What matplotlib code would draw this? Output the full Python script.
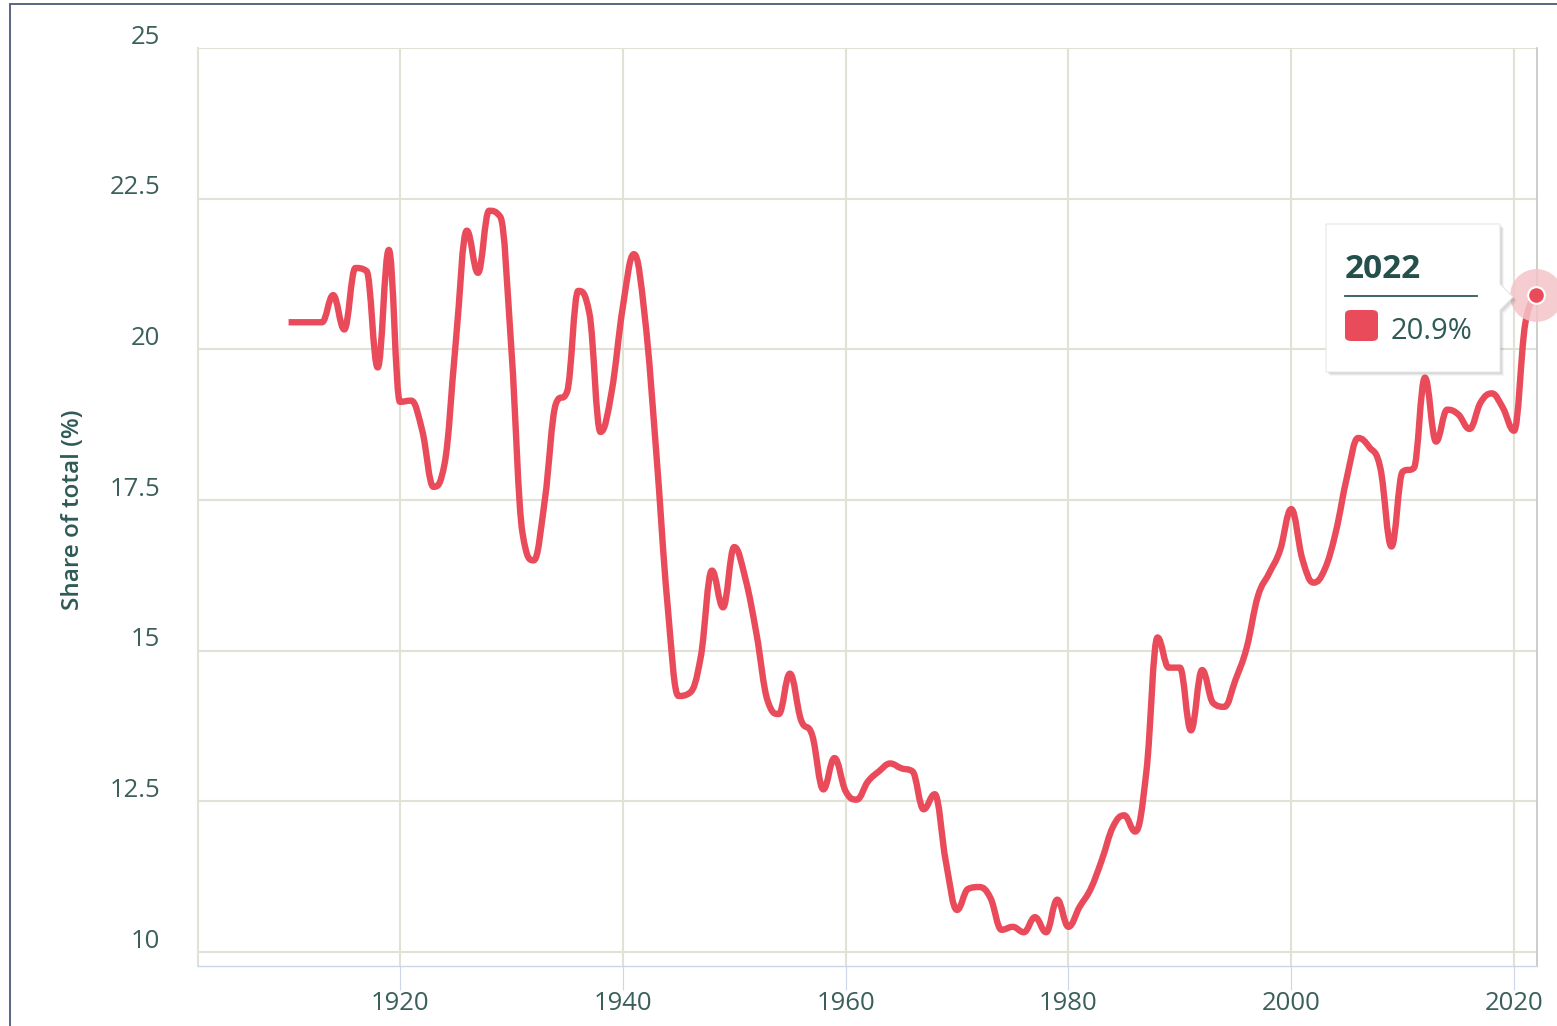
import matplotlib.pyplot as plt
from matplotlib.path import Path
from matplotlib.patches import PathPatch, Polygon, FancyBboxPatch, Rectangle
from matplotlib.transforms import ScaledTranslation

# share of total (%) per year, 1910-2022
years = list(range(1910, 2023))
share = [
    20.45, 20.45, 20.45, 20.45, 20.9, 20.33, 21.35, 21.3, 19.7, 21.65,
    19.13, 19.15, 18.65, 17.72, 18.1, 20.1, 21.97, 21.27, 22.3, 22.2,
    20.0, 16.95, 16.5, 17.5, 19.1, 19.3, 20.97, 20.6, 18.63, 19.3,
    20.7, 21.58, 20.5, 18.3, 15.8, 14.25, 14.3, 14.9, 16.33, 15.72,
    16.72, 16.2, 15.28, 14.17, 13.95, 14.62, 13.85, 13.6, 12.7, 13.22,
    12.67, 12.53, 12.83, 13.0, 13.13, 13.05, 13.0, 12.37, 12.62, 11.5,
    10.7, 11.05, 11.08, 10.9, 10.37, 10.42, 10.33, 10.58, 10.33, 10.87,
    10.42, 10.75, 11.05, 11.53, 12.08, 12.27, 12.0, 13.0, 15.22, 14.72,
    14.72, 13.68, 14.68, 14.13, 14.07, 14.52, 15.05, 15.9, 16.28, 16.67,
    17.35, 16.52, 16.13, 16.35, 16.97, 17.88, 18.53, 18.38, 18.03, 16.73,
    17.97, 18.03, 19.53, 18.47, 19.0, 18.92, 18.68, 19.12, 19.27, 19.03,
    18.65, 20.42, 20.9,
]

x_ticks = [1920, 1940, 1960, 1980, 2000, 2020]
y_ticks = [10, 12.5, 15, 17.5, 20, 22.5, 25]
y_tick_labels = ['10', '12.5', '15', '17.5', '20', '22.5', '25']
y_title = 'Share of total (%)'

LINE = '#e94b5b'
GRID = '#e1e1d5'
TXT = '#3b5f5b'
W, H = 1557, 1026


def px(x, y):
    # pixel (top-left origin) -> figure fraction
    return x / W, 1 - y / H


def spline_path(xs, ys, smoothing=1.5):
    '''smooth curve through the points, same control points as a highcharts spline'''
    n = len(xs)
    left = [(xs[i], ys[i]) for i in range(n)]
    right = [(xs[i], ys[i]) for i in range(n)]
    d = smoothing + 1
    for i in range(1, n - 1):
        px_, py_ = xs[i], ys[i]
        lx, ly = xs[i - 1], ys[i - 1]
        nx, ny = xs[i + 1], ys[i + 1]
        lcx = (smoothing * px_ + lx) / d
        lcy = (smoothing * py_ + ly) / d
        rcx = (smoothing * px_ + nx) / d
        rcy = (smoothing * py_ + ny) / d
        if rcx != lcx:
            corr = (rcy - lcy) * (rcx - px_) / (rcx - lcx) + py_ - rcy
            lcy += corr
            rcy += corr
            if lcy > ly and lcy > py_:
                lcy = max(ly, py_)
                rcy = 2 * py_ - lcy
            elif lcy < ly and lcy < py_:
                lcy = min(ly, py_)
                rcy = 2 * py_ - lcy
            if rcy > ny and rcy > py_:
                rcy = max(ny, py_)
                lcy = 2 * py_ - rcy
            elif rcy < ny and rcy < py_:
                rcy = min(ny, py_)
                lcy = 2 * py_ - rcy
        left[i] = (lcx, lcy)
        right[i] = (rcx, rcy)
    verts = [(xs[0], ys[0])]
    codes = [Path.MOVETO]
    for i in range(1, n):
        verts += [right[i - 1], left[i], (xs[i], ys[i])]
        codes += [Path.CURVE4] * 3
    return Path(verts, codes)


plt.rcParams['font.family'] = ['Open Sans', 'DejaVu Sans']

fig = plt.figure(figsize=(W / 100, H / 100), dpi=100)
l, t = px(198, 48)
r, b = px(1537, 966)
ax = fig.add_axes([l, b, r - l, t - b])

ax.set_xlim(1901.87, 2022.06)
ax.set_ylim(9.77, 25.0)

ax.set_xticks(x_ticks)
ax.set_yticks(y_ticks)
ax.set_yticklabels([])
ax.grid(True, color=GRID, linewidth=1.5)
ax.set_axisbelow(True)
ax.tick_params(axis='x', length=17, width=0.8, color='#ccd6eb', direction='out',
               labelsize=18.5, labelcolor=TXT, pad=1)
ax.tick_params(axis='y', length=0)

ax.spines['top'].set_visible(False)
ax.spines['left'].set_color(GRID)
ax.spines['left'].set_linewidth(1.5)
ax.spines['right'].set_color('#c4c6c4')
ax.spines['right'].set_linewidth(1.2)
ax.spines['bottom'].set_color('#ccd6eb')
ax.spines['bottom'].set_linewidth(1.0)

# y labels sit a little above their grid lines
shift = ScaledTranslation(0, 0.11, fig.dpi_scale_trans)
for v, s in zip(y_ticks, y_tick_labels):
    ax.text(-0.028, v, s, transform=ax.get_yaxis_transform() + shift,
            ha='right', va='center', fontsize=18.5, color=TXT)

fig.text(*px(73, 510), y_title, rotation=90, ha='center', va='center',
         fontsize=17.5, fontweight='semibold', color='#2e5a56')

# the series
ax.add_patch(PathPatch(spline_path(years, share), fill=False, edgecolor=LINE,
                       linewidth=4.6, capstyle='butt', joinstyle='round', zorder=3))

# hovered point
ax.plot(years[-1], share[-1], 'o', markersize=38, color='#f4c3c8', alpha=0.85,
        markeredgewidth=0, zorder=4, clip_on=False)
ax.plot(years[-1], share[-1], 'o', markersize=12, color=LINE,
        markeredgecolor='white', markeredgewidth=1.5, zorder=5, clip_on=False)

# tooltip
box = [(1326, 224), (1500, 224), (1500, 284), (1513, 297), (1500, 310),
       (1500, 372), (1326, 372)]
for k, a in [(4, 0.04), (3, 0.05), (2, 0.07)]:
    fig.add_artist(Polygon([px(x + k, y + k) for x, y in box], closed=True,
                           transform=fig.transFigure, facecolor='black',
                           edgecolor='none', alpha=a, zorder=10))
fig.add_artist(Polygon([px(x, y) for x, y in box], closed=True,
                       transform=fig.transFigure, facecolor='white',
                       edgecolor='#e6e6e6', linewidth=0.8, zorder=11))
fig.text(*px(1345, 270), str(years[-1]), ha='left', va='center', fontsize=24,
         fontweight='bold', color='#24504b', zorder=12)
x0, y0 = px(1345, 296)
x1, _ = px(1477, 296)
fig.add_artist(plt.Line2D([x0, x1], [y0, y0], transform=fig.transFigure,
                          color='#2e5a56', linewidth=1.3, zorder=12))
sx, sy = px(1345, 341)
fig.add_artist(FancyBboxPatch((sx, sy), 33 / W, 31 / H,
                              boxstyle='round,pad=0,rounding_size=0.004',
                              transform=fig.transFigure, facecolor=LINE,
                              edgecolor='none', zorder=12))
fig.text(*px(1391, 331), f'{share[-1]:.1f}%', ha='left', va='center',
         fontsize=21, color='#2e5a56', zorder=12)

# screenshot frame
fx, fy = px(10, 4)
fig.add_artist(Rectangle((fx, -0.1), 1.2, fy + 0.1, transform=fig.transFigure,
                         fill=False, edgecolor='#4b5b7a', linewidth=1.3, zorder=20))

fig.savefig('out.png', dpi=100)
